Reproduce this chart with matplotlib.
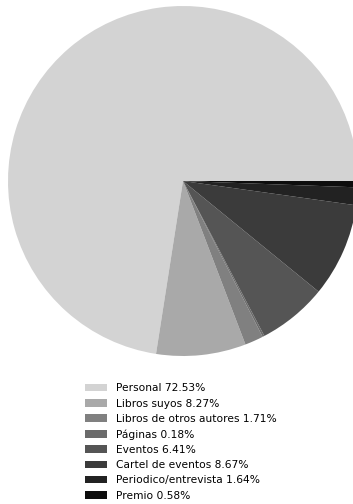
import matplotlib.pyplot as plt

labels = ["Personal", "Libros suyos", "Libros de otros autores", "Páginas",
          "Eventos", "Cartel de eventos", "Periodico/entrevista", "Premio"]
shares = [72.53, 8.27, 1.71, 0.18, 6.41, 8.67, 1.64, 0.58]
colors = ["#d3d3d3", "#a9a9a9", "#808080", "#6b6b6b",
          "#555555", "#3b3b3b", "#222222", "#0d0d0d"]


def main():
    fig = plt.figure(figsize=(3.53, 5.04), dpi=100)
    ax = fig.add_axes([8 / 353, 148 / 504, 350 / 353, 350 / 504])

    wedges, _ = ax.pie(shares, colors=colors, startangle=0, counterclock=True,
                       wedgeprops={"linewidth": 0})
    ax.set_xlim(-1, 1)
    ax.set_ylim(-1, 1)
    ax.set_aspect("equal")

    fig.legend(wedges, [f"{l} {s:.2f}%" for l, s in zip(labels, shares)],
               loc="upper left", bbox_to_anchor=(80 / 353, 1 - 378 / 504),
               frameon=False, fontsize=7.7, handlelength=2.0,
               handletextpad=0.9, labelspacing=0.49, borderpad=0.0)

    fig.savefig("out.png", dpi=100)


if __name__ == "__main__":
    main()
